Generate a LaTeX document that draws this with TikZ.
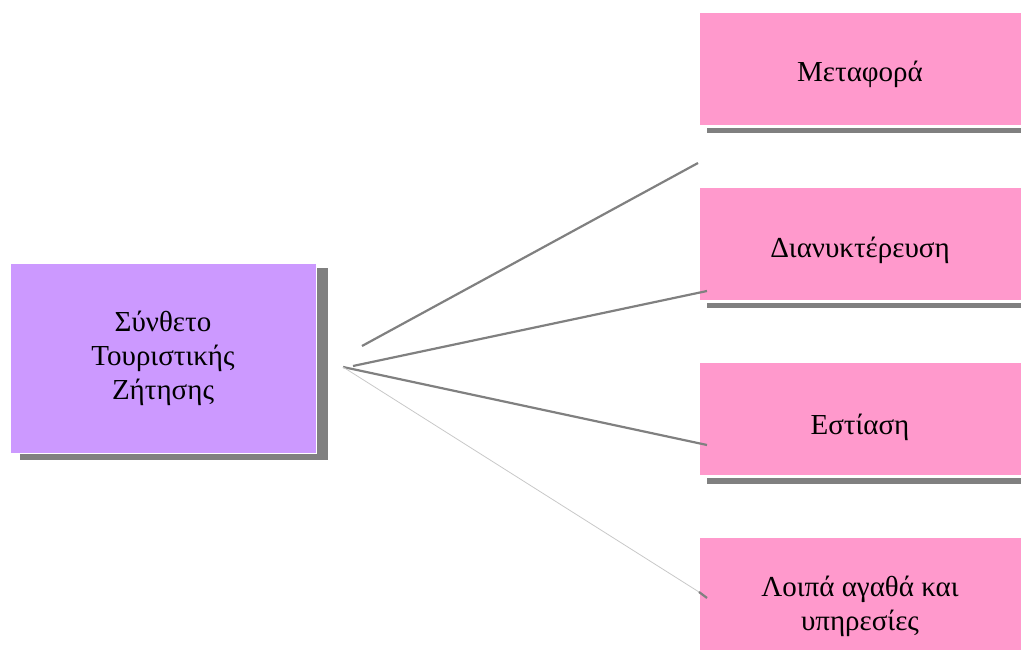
\documentclass[tikz,border=0pt]{standalone}
\usepackage{fontspec}
\setmainfont{Liberation Serif}
\definecolor{srcfill}{HTML}{CC99FF}
\definecolor{boxfill}{HTML}{FF99CC}
\definecolor{shade}{HTML}{808080}
\definecolor{thinline}{HTML}{C8C8C8}
\tikzset{
  srcbox/.style={rectangle, fill=srcfill, draw=white, line width=0.8pt, minimum width=306pt, minimum height=190pt, inner sep=0pt, align=center, font=\fontsize{29}{34}\selectfont},
  itembox/.style={rectangle, fill=boxfill, draw=white, line width=0.8pt, minimum width=322pt, minimum height=113pt, inner sep=0pt},
  itemtext/.style={inner sep=0pt, align=center, font=\fontsize{29}{34}\selectfont},
  shadowfill/.style={fill=shade, draw=none},
  conn/.style={draw=shade, line width=2.2pt},
  thinconn/.style={draw=thinline, line width=0.8pt}
}
\begin{document}
\begin{tikzpicture}[x=1pt,y=-1pt]
\useasboundingbox (0,0) rectangle (1021,652);
% shadows
\fill[shadowfill] (20,268) rectangle (328,460);
\fill[shadowfill] (707,128) rectangle (1021,133);
\fill[shadowfill] (707,303) rectangle (1021,308);
\fill[shadowfill] (707,478) rectangle (1021,484);
% boxes
\node[srcbox] (src) at (163,358) {Σύνθετο\\Τουριστικής\\Ζήτησης};
\node[itembox] (b1) at (860,68.5) {};
\node[itembox] (b2) at (860,243.5) {};
\node[itembox] (b3) at (860,418.5) {};
\node[itembox] (b4) at (860,593.5) {};
\node[itemtext] (t1) at ([yshift=-6pt]b1.center) {Μεταφορά};
\node[itemtext] (t2) at ([yshift=-7pt]b2.center) {Διανυκτέρευση};
\node[itemtext] (t3) at ([yshift=-9pt]b3.center) {Εστίαση};
\node[itemtext] (t4) at ([yshift=-13pt]b4.center) {Λοιπά αγαθά και\\υπηρεσίες};
% connector ends
\coordinate (h1) at (362,346);
\coordinate (h2) at (353,366);
\coordinate (h3) at (343,367);
\coordinate (e1) at (698,163);
\coordinate (e2) at (707,291);
\coordinate (e3) at (707,445);
\coordinate (e4) at (707,598);
\coordinate (e4a) at (699,592);
\draw[conn] (h1) -- (e1);
\draw[conn] (h2) -- (e2);
\draw[conn] (h3) -- (e3);
\draw[thinconn] (h3) -- (e4a);
\draw[conn] (e4a) -- (e4);
\end{tikzpicture}
\end{document}
